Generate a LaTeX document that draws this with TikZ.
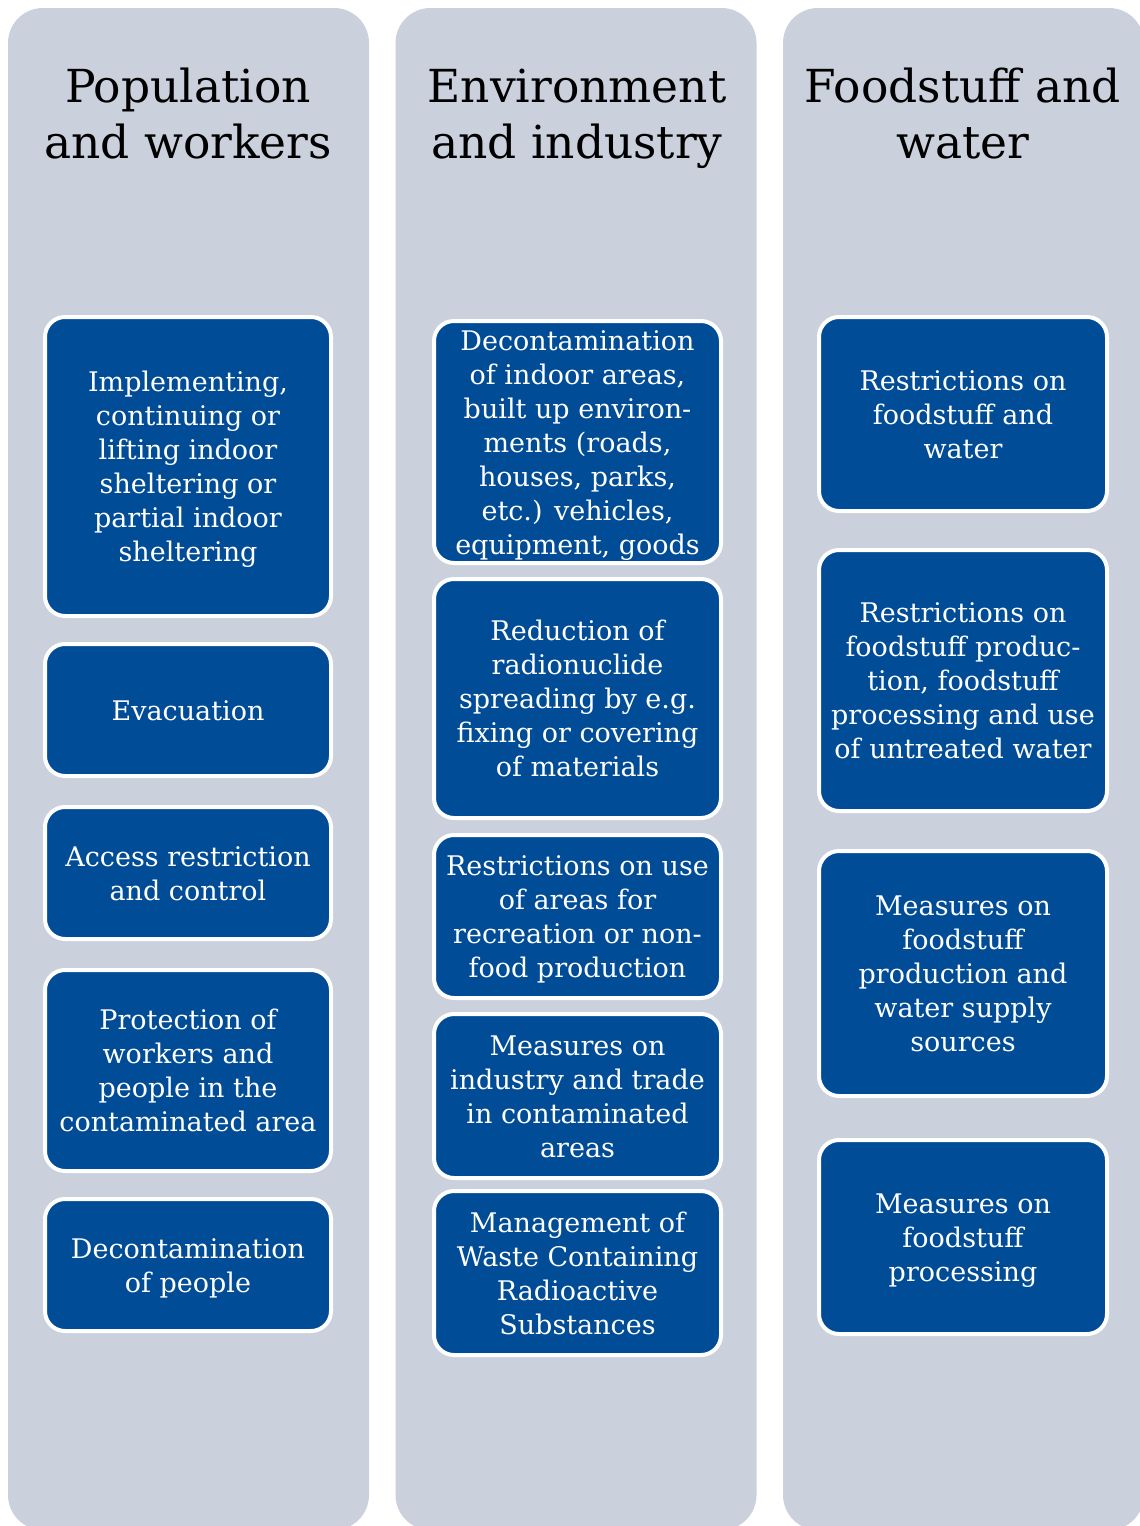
\documentclass[tikz,border=0pt]{standalone}
\usepackage{fontspec}
\setmainfont{DejaVu Serif}
\definecolor{colbg}{RGB}{202,208,220}
\definecolor{boxblue}{RGB}{0,76,151}
\newcommand{\boxstrut}{\rule[-6.7pt]{0pt}{34pt}}
\tikzset{
  column/.style={fill=colbg, rounded corners=35pt, minimum width=361pt, minimum height=1522pt, inner sep=0pt, draw=none},
  header/.style={align=center, font=\fontsize{45.5}{56}\selectfont, text=black, inner sep=0pt},
  mbox/.style={fill=boxblue, draw=white, line width=4pt, rounded corners=20pt, inner sep=0pt,
    align=center, text=white, font=\fontsize{27}{34}\selectfont},
}
\newcommand{\mybox}[6]{% name, x, y, w, h, text
  \node[mbox, minimum width=#4pt-4pt, minimum height=#5pt-4pt] (#1) at (#2,#3) {\boxstrut#6\boxstrut};}
\begin{document}
\begin{tikzpicture}[x=1pt,y=-1pt]
\clip (0,0) rectangle (1140,1526);
\fill[white] (0,0) rectangle (1140,1526);
% columns
\node[column] (c1) at (188.5,769) {};
\node[column] (c2) at (576,769) {};
\node[column] (c3) at (963.5,769) {};
% headers
\node[header] (h1) at (188,119.5) {\strut Population\\and workers\strut};
\node[header] (h2) at (577,119.5) {\strut Environment\\and industry\strut};
\node[header] (h3) at (963,119.5) {\strut Foodstuff and\\water\strut};
% column 1
\mybox{a1}{188}{466.5}{290}{303}{Implementing,\\continuing or\\lifting indoor\\sheltering or\\partial indoor\\sheltering}
\mybox{a2}{188}{710}{290}{136}{Evacuation}
\mybox{a3}{188}{873}{290}{136}{Access restriction\\and control}
\mybox{a4}{188}{1070.5}{290}{205}{Protection of\\workers and\\people in the\\contaminated area}
\mybox{a5}{188}{1265}{290}{136}{Decontamination\\of people}
% column 2
\mybox{b1}{577.5}{442}{291}{246}{Decontamination\\of indoor areas,\\built up environ-\\ments (roads,\\houses, parks,\\etc.) vehicles,\\equipment, goods}
\mybox{b2}{577.5}{698.5}{291}{243}{Reduction of\\radionuclide\\spreading by e.g.\\fixing or covering\\of materials}
\mybox{b3}{577.5}{916.5}{291}{167}{Restrictions on use\\of areas for\\recreation or non-\\food production}
\mybox{b4}{577.5}{1096}{291}{168}{Measures on\\industry and trade\\in contaminated\\areas}
\mybox{b5}{577.5}{1273}{291}{168}{Management of\\Waste Containing\\Radioactive\\Substances}
% column 3
\mybox{d1}{963}{414}{292}{198}{Restrictions on\\foodstuff and\\water}
\mybox{d2}{963}{680.5}{292}{265}{Restrictions on\\foodstuff produc-\\tion, foodstuff\\processing and use\\of untreated water}
\mybox{d3}{963}{973.5}{292}{249}{Measures on\\foodstuff\\production and\\water supply\\sources}
\mybox{d4}{963}{1237}{292}{198}{Measures on\\foodstuff\\processing}
\end{tikzpicture}
\end{document}
